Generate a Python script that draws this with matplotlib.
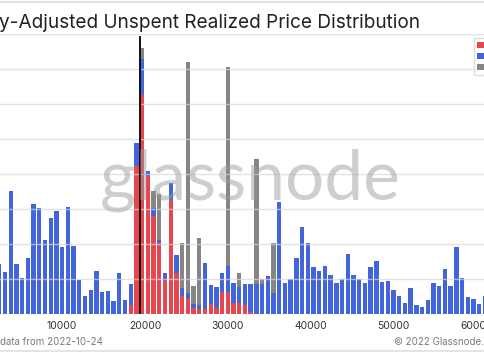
import numpy as np
import matplotlib
matplotlib.use('Agg')
import matplotlib.pyplot as plt
from matplotlib.patches import Rectangle
from matplotlib.lines import Line2D

plt.rcParams['font.family'] = ['Inter', 'DejaVu Sans']

# price buckets: 690 USD wide, first visible bucket index 3
BUCKET = 690
FIRST_BUCKET = 3

red = [0, 0, 0, 0, 0, 0, 0, 0, 0, 0,
       0, 0, 0, 0, 0, 0, 0, 0, 0, 0,
       0, 0, 0, 0.25, 4.23, 6.25, 3.94, 2.80, 2.04, 0.94,
       3.25, 1.18, 0.51, 0.42, 0.18, 0.13, 0.13, 0.28, 0.18, 0.63,
       0.63, 0.32, 0.32, 0.25, 0.05, 0, 0, 0, 0, 0,
       0, 0, 0, 0, 0, 0, 0, 0, 0, 0,
       0, 0, 0, 0, 0, 0, 0, 0, 0, 0,
       0, 0, 0, 0, 0, 0, 0, 0, 0, 0,
       0, 0, 0, 0, 0, 0]
blue = [1.43, 1.20, 3.52, 1.42, 1.02, 1.59, 3.13, 3.02, 2.11, 2.73,
        2.93, 1.92, 3.06, 1.94, 0.97, 0.51, 0.69, 1.24, 0.64, 0.67,
        0.38, 1.16, 0.39, 0.60, 0.66, 1.03, 0.15, 0.24, 0.07, 0.24,
        0.50, 0.51, 0.24, 0.17, 0.10, 0.12, 1.34, 0.54, 0.60, 0.55,
        0.74, 0.56, 0.46, 0.60, 0.81, 0.86, 0.86, 1.09, 0.61, 3.21,
        0.89, 1.00, 1.61, 2.49, 2.04, 1.33, 1.22, 1.36, 1.12, 0.88,
        1.00, 1.72, 1.12, 1.00, 0.89, 1.35, 1.52, 0.92, 0.95, 0.70,
        0.51, 0.32, 0.73, 0.26, 0.21, 0.40, 0.88, 0.80, 1.28, 0.80,
        1.92, 1.02, 0.49, 0.42, 0.28, 0.52]
gray = [0, 0, 0, 0, 0, 0, 0, 0, 0, 0,
        0, 0, 0, 0, 0, 0, 0, 0, 0, 0,
        0, 0, 0, 0, 0, 0.31, 0, 0.47, 1.31, 0,
        0, 0, 1.27, 6.61, 0.52, 1.93, 0, 0, 0, 0,
        5.69, 0, 0.38, 0, 0, 3.58, 0.13, 0, 1.41, 0,
        0, 0, 0, 0, 0, 0, 0, 0, 0, 0,
        0, 0, 0, 0, 0, 0, 0, 0, 0, 0,
        0, 0, 0, 0, 0, 0, 0, 0, 0, 0,
        0, 0, 0, 0, 0, 0]

current_price = 19350
x_ticks = [10000, 20000, 30000, 40000, 50000, 60000]
x_tick_labels = ['10000', '20000', '30000', '40000', '50000', '60000']

RED = '#e6474e'
BLUE = '#4265dc'
GRAY = '#858585'

red = np.array(red)
blue = np.array(blue)
gray = np.array(gray)
centers = (FIRST_BUCKET + np.arange(len(blue))) * BUCKET + BUCKET / 2

fig = plt.figure(figsize=(4.85, 3.6), dpi=100)
ax = fig.add_axes([0, 46 / 360, 1, 280 / 360])

w = BUCKET * 0.76
ax.bar(centers, red, width=w, color=RED, zorder=2)
ax.bar(centers, blue, width=w, bottom=red, color=BLUE, zorder=2)
ax.bar(centers, gray, width=w, bottom=red + blue, color=GRAY, zorder=2)

ax.axvline(current_price, ymax=0.99, color='#111111', lw=1.4, zorder=4)

ax.set_xlim(2501, 61076)
ax.set_ylim(0, 8)
ax.set_yticks(np.arange(1, 9))
ax.set_yticklabels([])
ax.yaxis.grid(True, color='#d8d8d8', lw=1, alpha=0.7)
ax.set_axisbelow(False)
ax.set_xticks(x_ticks)
ax.set_xticklabels(x_tick_labels, fontsize=7.5, color='#333333')
ax.tick_params(axis='both', length=0)
ax.tick_params(axis='x', pad=5)
for s in ax.spines.values():
    s.set_visible(False)

# watermark
fig.text(250 / 485, (360 - 199) / 360, 'glassnode', family=['Lato', 'DejaVu Sans'],
         fontsize=50, color='#9a9a9a', alpha=0.48, ha='center', va='baseline', zorder=5)

# title (left part cut off in the reference)
fig.text(-1 / 485, (360 - 28) / 360, 'y-Adjusted Unspent Realized Price Distribution',
         fontsize=13.7, color='#222222', ha='left', va='baseline')

# legend swatches (labels run off the right edge)
fig.add_artist(Rectangle((474 / 485, (360 - 75) / 360), 20 / 485, 37 / 360,
                         transform=fig.transFigure, facecolor='white', edgecolor='#dddddd', lw=1))
for c, ytop in zip([RED, BLUE, GRAY], [42, 53, 64]):
    fig.add_artist(Rectangle((477 / 485, (360 - ytop - 6) / 360), 10 / 485, 6 / 360,
                             transform=fig.transFigure, facecolor=c, edgecolor='none'))

# container borders
for yp in [2, 351]:
    fig.add_artist(Line2D([0, 1], [(360 - yp) / 360] * 2, transform=fig.transFigure,
                          color='#e4e4e4', lw=1.5))

fig.text(0, (360 - 342) / 360, 'data from 2022-10-24', fontsize=7, color='#7a7a7a',
         ha='left', va='center')
fig.text(484 / 485, (360 - 342) / 360, '© 2022 Glassnode.', fontsize=7, color='#7a7a7a',
         ha='right', va='center')

fig.savefig('out.png', dpi=100)
